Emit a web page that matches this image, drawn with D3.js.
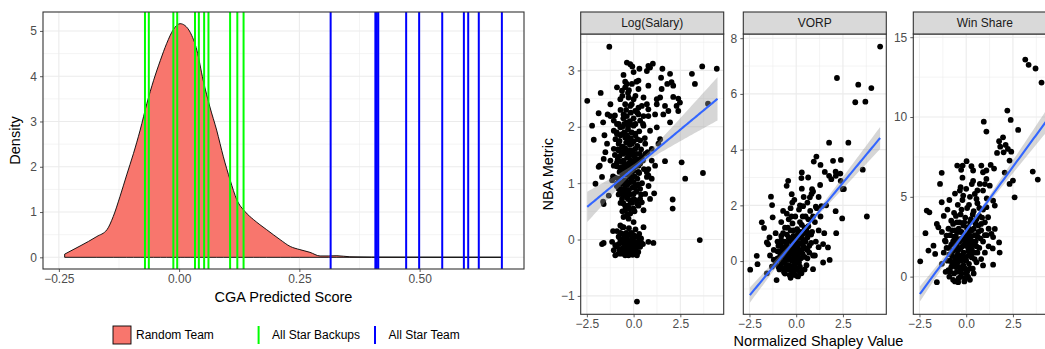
<!DOCTYPE html>
<html><head><meta charset="utf-8">
<script src="https://cdn.jsdelivr.net/npm/d3@7"></script>
<style>body{margin:0;background:#fff}svg text{font-family:"Liberation Sans",Arial,sans-serif}</style>
</head><body><svg id="c" width="1045" height="349" font-family="Liberation Sans, Arial, sans-serif"></svg>
<script>
// ---------- data ----------
const densityX = [-0.238,-0.206,-0.171,-0.150,-0.137,-0.123,-0.109,-0.095,-0.081,-0.067,-0.053,-0.039,-0.026,-0.012,0.002,0.012,0.023,0.037,0.050,0.064,0.078,0.092,0.106,0.120,0.137,0.155,0.168,0.182,0.210,0.231,0.251,0.272,0.293,0.310,0.328,0.355,0.400,0.500,0.600,0.671];
const densityY = [0.07,0.25,0.46,0.61,0.90,1.34,1.82,2.29,2.81,3.40,3.91,4.35,4.72,5.03,5.16,5.12,4.97,4.57,3.91,3.32,2.81,2.22,1.71,1.27,1.01,0.83,0.72,0.61,0.39,0.24,0.17,0.11,0.03,0.03,0.035,0.012,0.006,0.004,0.003,0.003];
const backupScores = [-0.071,-0.063,-0.012,-0.004,0.033,0.041,0.052,0.061,0.106,0.121,0.134];
const allStarScores = [0.315,0.408,0.411,0.414,0.472,0.499,0.547,0.592,0.601,0.623,0.671];
const legendLabels = ["Random Team","All Star Backups","All Star Team"];
const leftXTicks = [-0.25,0,0.25,0.5];
const leftYTicks = [0,1,2,3,4,5];

const facetNames = ["Log(Salary)","VORP","Win Share"];
const facetXTicks = [-2.5,0,2.5];
const facetYTicks = [[-1,0,1,2,3],[0,2,4,6,8],[0,5,10,15]];
const facetYDomains = [[-1.326,3.646],[-1.91,8.15],[-2.36,15.2]];

const salaryPoints = [
[-1.30,3.42],[-2.48,2.46],[-1.76,2.60],[-0.36,3.14],[-0.18,3.11],[-0.07,3.07],[0.31,3.03],[0.79,3.08],[1.03,3.12],[1.54,3.03],[1.95,2.94],[3.12,2.94],[3.67,3.07],[4.45,3.03],[3.28,2.76],[3.98,2.41],
[-0.54,2.92],[0.0,2.97],[0.71,2.99],[0.88,3.05],[1.47,2.87],[1.80,2.76],[2.03,2.79],[2.12,2.73],[1.50,2.67],[0.79,2.73],[0.26,2.67],[-0.36,2.76],[-0.45,2.70],[-0.09,2.76],[-0.89,2.70],[-0.62,2.64],[0.26,2.82],
[-0.71,2.49],[-0.27,2.52],[0.0,2.49],[0.53,2.52],[1.24,2.49],[1.42,2.52],[2.12,2.53],[2.39,2.50],[2.48,2.43],[2.30,2.37],[2.39,2.28],[1.68,2.37],[1.86,2.28],[1.24,2.40],[0.71,2.40],[0.79,2.31],[0.26,2.34],[0.44,2.37],[-0.45,2.40],[-0.18,2.37],[-1.24,2.40],
[-1.87,2.24],[-1.39,2.22],[-1.24,2.19],[-0.54,2.22],[-0.36,2.19],[0.09,2.28],[0.26,2.22],[0.53,2.19],[0.79,2.19],[1.15,2.22],[1.59,2.22],
[-2.22,2.02],[-1.63,2.08],[-1.06,2.11],[-0.89,2.05],[-0.71,1.99],[-0.36,2.08],[-0.18,2.05],[0.0,2.02],[0.35,2.11],[0.53,2.02],[0.88,1.93],[1.24,1.99],[1.95,2.08],
[-2.13,1.77],[-1.56,1.85],[-1.06,1.93],[-0.89,1.87],[-0.97,1.78],[-0.62,1.87],[-0.45,1.81],[-0.27,1.76],[-0.09,1.70],[0.09,1.85],[0.35,1.76],[0.62,1.70],[0.97,1.61],[1.33,1.70],[1.42,1.78],
[-1.42,1.70],[-1.51,1.55],[-1.06,1.61],[-0.80,1.58],[-0.62,1.64],[-0.45,1.55],[-0.27,1.49],[-0.09,1.58],[0.09,1.61],[0.32,1.52],[0.44,1.46],[0.62,1.52],
[-1.81,1.31],[-1.60,1.43],[-1.24,1.40],[-1.06,1.31],[-0.89,1.37],[-0.71,1.28],[-0.45,1.34],[-0.36,1.25],[-0.09,1.31],[0.0,1.22],[0.26,1.31],[0.97,1.40],[1.15,1.31],[0.79,1.25],[1.68,1.39],[2.57,1.37],[3.71,1.18],
[-2.04,0.99],[-1.87,1.29],[-1.69,1.11],[-1.15,1.05],[-0.98,1.10],[-0.89,0.99],[-0.80,0.90],[-1.63,0.67],[-1.33,0.78],[-0.71,0.84],[-0.62,0.72],[-0.54,0.64],[-0.36,0.75],[-0.18,0.69],[0.0,0.81],[0.18,0.64],
[-0.45,0.52],[-0.18,0.46],[0.0,0.55],[0.26,0.60],[0.44,0.66],[0.53,0.52],[-0.54,0.40],[-0.27,0.37],[0.0,0.31],[0.35,0.72],[0.62,0.81],[0.88,0.72],[1.10,0.82],[0.09,0.93],[0.35,0.90],[0.71,1.11],[0.97,1.08],[0.79,1.14],
[0.53,0.22],[-0.71,0.25],[-0.54,0.22],[-1.10,0.15],[-0.89,0.15],[2.09,0.71],[2.09,0.55],[2.76,1.08],[3.54,-0.01],[0.18,-1.10],[-1.60,0.63],
[-1.69,-0.08],[-1.60,-0.06],[-1.15,-0.04],[-0.98,-0.10],[-1.06,-0.19],[-0.98,-0.28],[-0.80,-0.25],[-0.71,0.0],[-0.54,-0.07],[-0.36,0.02],[-0.27,-0.10],[-0.18,0.08],[-0.09,0.0],[0.09,-0.07],[0.26,-0.04],[0.35,-0.13],[-0.62,-0.16],[-0.45,-0.22],[-0.27,-0.28],[-0.09,-0.22],[0.09,-0.16],[0.18,-0.28],[0.79,-0.04],[1.06,-0.06],
[-0.9,1.9],[-0.7,1.85],[-0.5,1.9],[-0.3,1.95],[-0.1,1.9],[0.1,1.88],[0.3,1.92],[-0.8,1.7],[-0.6,1.65],[-0.4,1.72],[-0.2,1.68],[0.0,1.74],[0.2,1.66],[0.4,1.6],
[-1.0,1.5],[-0.75,1.48],[-0.55,1.52],[-0.35,1.45],[-0.15,1.5],[0.05,1.47],[0.25,1.42],[0.5,1.4],[-0.9,1.3],[-0.7,1.25],[-0.5,1.32],[-0.3,1.28],[-0.1,1.2],[0.1,1.3],[0.3,1.18],[0.55,1.25],
[-1.1,1.12],[-0.8,1.08],[-0.6,1.15],[-0.4,1.05],[-0.2,1.12],[0.0,1.02],[0.2,1.08],[0.45,1.0],[-0.9,0.95],[-0.65,0.9],[-0.45,0.95],[-0.25,0.88],[-0.05,0.92],[0.15,0.85],[0.4,0.8],
[-0.55,0.78],[-0.3,0.72],[-0.1,0.65],[0.1,0.7],[-0.45,0.6],[-0.2,0.55],[0.05,0.5],[-0.6,0.5],[-0.35,0.45],
[-0.5,2.05],[-0.2,2.1],[0.0,2.15],[-0.7,2.3],[-0.4,2.3],[0.2,2.25],[-0.6,2.55],[-0.3,2.6],[0.1,2.55],[-0.1,2.4],[-0.45,2.8],[-0.25,2.65],[0.15,2.8],[-0.8,2.05],[-1.0,2.2],[0.5,2.05],[0.6,1.8],[0.75,1.55],[0.7,1.2],[0.8,0.95],
[-0.65,1.38],[-0.25,1.35],[0.0,1.38],[-0.45,1.2],[-0.15,1.02],[-0.6,1.0],[-0.35,0.82],[-0.8,0.8],[0.25,0.98],[0.35,1.35],
[-0.8,0.05],[-0.6,0.1],[-0.4,0.12],[-0.2,0.1],[0.0,0.08],[0.2,0.05],[0.4,0.02],[-0.9,-0.12],[-0.7,-0.05],[-0.5,-0.08],[-0.3,-0.02],[-0.1,-0.05],[0.1,-0.1],[0.3,-0.02],[0.5,-0.08],
[-0.75,-0.18],[-0.55,-0.22],[-0.35,-0.15],[-0.15,-0.2],[0.05,-0.18],[0.25,-0.22],[-0.45,-0.28],[-0.05,-0.27],[-0.6,0.22],[-0.25,0.2],[0.1,0.18],
[-0.85,1.6],[-0.65,1.55],[-0.45,1.62],[-0.25,1.58],[-0.05,1.55],[0.15,1.52],[-0.75,1.2],[-0.55,1.25],[-0.35,1.15],[-0.15,1.25],[0.05,1.12],[0.25,1.2],[-0.7,1.0],[-0.5,1.05],[-0.3,0.98],[-0.1,1.05],[0.1,0.95],[-0.6,0.85],[-0.4,0.88],[-0.2,0.8],[0.0,0.72],[-0.7,0.65],[-0.3,0.6],[-0.85,1.42],[-0.55,1.4],[-0.15,1.4],[0.15,1.38],[-0.75,1.75],[-0.35,1.85],[-0.15,1.8],[0.2,1.78],[-0.6,2.0],[-0.3,2.0],[0.1,2.05],[-0.55,2.15],[-0.15,2.25],
[-0.7,0.12],[-0.5,0.05],[-0.3,0.08],[-0.1,0.12],[0.1,0.05],[0.3,0.1],[-0.8,-0.08],[-0.6,-0.02],[-0.4,-0.05],[-0.2,-0.08],[0.0,-0.03],[0.2,-0.12],[0.4,-0.05],[-0.65,-0.25],[-0.35,-0.25],[-0.15,-0.12],[0.15,-0.25],[-0.5,-0.15],[-0.25,-0.18],[0.0,-0.15]
];
const vorpPoints = [
[4.49,7.70],[2.18,6.57],[3.32,6.33],[4.02,6.21],[3.16,5.70],[3.70,5.72],[1.76,4.25],[2.79,4.25],[1.08,3.75],[0.94,3.57],[1.30,3.45],[1.97,3.60],[2.39,3.63],[1.53,3.20],[2.11,3.21],[2.36,3.14],[3.56,3.28],[0.30,3.18],
[3.78,1.60],[-0.43,2.88],[-0.51,2.70],[0.28,2.98],[0.64,3.00],[1.76,3.06],[1.88,2.94],[2.38,2.88],[2.12,3.06],[1.28,2.73],[2.49,2.58],[0.85,2.58],[-1.35,2.31],[-1.29,2.01],[-1.26,1.57],[-0.24,2.40],[-0.21,2.10],[0.73,2.29],[0.82,2.41],[0.37,1.97],[1.05,1.95],[1.35,1.97],[2.11,1.79],[2.46,1.53],[2.14,1.00],[-1.84,1.39],[-1.72,1.19],[-1.43,0.85],[-1.57,0.67],[-2.11,0.19],[-2.46,-0.31],[-2.07,-0.11],[1.44,-0.05],[1.79,0.04],[1.70,0.49],[1.44,0.61],[0.90,-0.29],[-1.05,-0.68],[0.02,-0.53],[0.28,-0.44],[-1.57,-0.44],[2.55,2.59],
[-1.4,0.2],[-1.2,0.4],[-1.1,-0.1],[-1.0,0.7],[-1.0,0.1],[-0.9,-0.3],[-0.9,0.35],[-0.8,0.9],[-0.8,-0.1],[-0.75,0.5],
[-0.7,0.15],[-0.65,-0.4],[-0.6,1.2],[-0.6,0.7],[-0.55,0.3],[-0.5,-0.15],[-0.5,0.95],[-0.45,0.45],[-0.4,0.05],[-0.4,1.5],
[-0.35,-0.5],[-0.35,0.75],[-0.3,0.25],[-0.3,1.1],[-0.25,-0.2],[-0.2,0.55],[-0.2,1.35],[-0.15,0.0],[-0.15,0.9],[-0.1,-0.45],
[-0.1,0.35],[-0.05,1.6],[0.0,0.7],[0.0,0.1],[0.05,-0.25],[0.05,1.15],[0.1,0.45],[0.15,1.85],[0.15,-0.05],[0.2,0.85],
[0.25,0.3],[0.3,1.3],[0.3,-0.35],[0.35,0.6],[0.4,1.0],[0.45,0.15],[0.5,1.6],[0.5,0.45],[0.55,-0.15],[0.6,0.85],
[0.65,1.25],[0.7,0.3],[0.75,1.8],[0.8,0.65],[0.85,1.05],[0.9,0.2],[1.0,1.4],[1.05,0.7],[1.1,1.9],[1.2,1.1],
[-1.3,-0.2],[-1.2,0.05],[-0.95,0.55],[-0.85,0.2],[-0.7,-0.25],[-0.6,0.0],[-0.55,0.55],[-0.45,0.2],[-0.4,-0.3],[-0.35,0.4],
[-0.25,0.05],[-0.25,0.7],[-0.2,-0.35],[-0.15,0.25],[-0.1,0.6],[-0.05,-0.1],[0.0,0.4],[0.05,0.9],[0.1,0.15],[0.15,0.6],
[0.2,-0.2],[0.25,1.05],[0.3,0.4],[0.4,0.75],[0.45,-0.3],[0.55,1.1],[0.6,0.1],[0.7,0.55],[0.8,0.95],[0.9,1.6],
[-0.5,1.7],[-0.3,1.9],[-0.1,2.2],[0.2,2.0],[0.4,2.3],[0.6,2.1],[-0.8,1.4],[-1.1,1.0],[-0.3,-0.6],[0.1,-0.55],
[0.3,2.6],[0.9,2.5],[1.2,2.3],[1.3,1.6],[1.5,1.0],[1.6,2.0],[1.0,0.2],[1.2,0.5],[-1.5,0.6],[-0.7,1.8],
[-1.0,0.35],[-0.9,0.05],[-0.85,0.6],[-0.75,0.3],[-0.7,-0.05],[-0.65,0.45],[-0.6,0.2],[-0.55,-0.25],[-0.5,0.65],[-0.5,0.1],[-0.45,0.35],[-0.4,-0.15],[-0.4,0.85],[-0.35,0.1],[-0.3,0.5],[-0.3,-0.3],[-0.25,0.3],[-0.2,0.0],[-0.2,0.8],[-0.15,0.45],[-0.1,0.15],[-0.1,-0.2],[-0.05,0.75],[0.0,0.25],[0.0,-0.3],[0.05,0.55],[0.1,0.0],[0.1,1.0],[0.15,0.35],[0.2,0.65],[0.25,0.1],[0.3,0.85],[0.35,0.25],[0.4,0.5],[0.45,1.2],[0.5,0.7],[0.6,0.4],[0.65,1.0],[-0.8,0.75],[-0.95,-0.2],[-0.6,-0.45],[-0.2,-0.5],[0.2,-0.4],[-0.7,1.0],[-0.45,1.2],[-0.15,1.1],[0.2,1.4],[-0.25,1.6],[0.35,1.6],[0.65,1.5]
];
const winSharePoints = [
[3.16,13.6],[3.34,13.27],[3.71,13.04],[4.03,12.16],[2.20,10.40],[2.38,9.82],[0.94,9.71],[1.08,9.09],[2.78,9.19],[1.97,8.73],[1.76,8.48],[1.82,8.14],[2.11,8.25],[2.23,8.0],[2.0,7.79],[1.65,7.75],[2.41,7.83],[2.32,7.27],[0.02,7.23],[-0.48,6.96],[-0.19,6.96],[-0.27,6.69],[0.28,6.92],[0.37,6.65],[0.81,6.96],[1.31,7.0],[1.49,6.77],[1.08,6.65],[0.90,6.54],[-1.31,6.50],[2.06,6.52],[3.56,6.58],
[3.83,6.08],[2.59,4.97],[2.32,5.81],[2.50,6.02],[-1.40,5.81],[-1.31,4.66],[-2.11,4.14],[-1.97,4.03],[-2.18,2.72],[-2.46,0.96],[-1.66,1.42],[-1.57,-0.35],[1.44,0.75],[1.79,1.51],[1.76,2.14],[1.53,2.99],[1.35,2.68],[1.44,2.48],[-0.43,-0.35],[0.37,5.99],[0.73,5.81],[1.08,6.12],[1.26,5.70],[0.90,5.39],[-0.34,5.39],[-0.16,5.08],[0.46,5.18],[0.55,4.87],[1.53,4.45],[1.44,4.76],[1.08,4.35],[1.17,3.72],[-1.57,3.30],[-1.49,3.09],[-1.05,2.57],[-1.14,2.26],[-2.02,1.63],[-1.75,1.94],[1.42,1.77],
[-1.3,0.8],[-1.2,1.5],[-1.1,0.3],[-1.1,2.2],[-1.0,1.0],[-0.95,3.0],[-0.9,0.0],[-0.9,1.8],[-0.85,2.6],[-0.8,0.6],
[-0.8,3.5],[-0.75,1.3],[-0.7,2.2],[-0.7,-0.2],[-0.65,4.0],[-0.6,0.9],[-0.6,2.9],[-0.55,1.7],[-0.5,0.3],[-0.5,3.4],
[-0.45,2.3],[-0.45,4.5],[-0.4,1.1],[-0.4,-0.1],[-0.35,2.8],[-0.35,0.6],[-0.3,1.8],[-0.3,3.9],[-0.25,0.2],[-0.25,2.4],
[-0.2,1.3],[-0.2,4.8],[-0.15,3.2],[-0.15,0.7],[-0.1,2.0],[-0.1,-0.3],[-0.05,3.7],[0.0,1.0],[0.0,2.6],[0.05,0.3],
[0.05,4.3],[0.1,1.6],[0.1,3.1],[0.15,0.8],[0.2,2.2],[0.2,5.0],[0.25,3.6],[0.3,1.2],[0.3,2.9],[0.35,0.5],
[0.4,4.1],[0.4,2.0],[0.45,1.5],[0.5,3.3],[0.55,0.9],[0.6,2.5],[0.6,4.6],[0.7,1.8],[0.7,3.8],[0.8,1.1],
[0.8,2.9],[0.9,4.2],[0.9,2.2],[1.0,3.4],[1.0,1.5],[1.1,2.6],[1.1,4.9],[1.2,3.0],[1.2,1.9],[-1.0,4.2],
[-0.85,1.0],[-0.75,2.9],[-0.65,0.2],[-0.55,2.5],[-0.45,1.4],[-0.35,3.4],[-0.25,1.0],[-0.15,2.3],[-0.05,0.5],[0.05,1.9],
[0.15,2.7],[0.25,1.4],[0.35,3.9],[0.45,2.6],[0.55,1.9],[0.65,3.2],[0.75,2.4],[0.85,3.7],[-0.6,5.2],[-0.3,5.6],
[0.0,5.5],[0.3,5.8],[-0.9,4.8],[-0.2,6.2],[0.6,5.4],[1.0,5.8],[0.2,-0.2],[-0.6,-0.3],[0.4,0.2],[0.9,0.7],
[-1.2,3.8],[-1.3,2.8],[-0.95,0.4],[-0.05,-0.1],[0.1,0.0],[-0.3,0.0],
[-0.9,1.4],[-0.8,2.0],[-0.75,0.8],[-0.7,1.6],[-0.65,2.5],[-0.6,1.2],[-0.55,0.6],[-0.5,2.0],[-0.5,2.8],[-0.45,0.9],[-0.4,1.7],[-0.4,3.0],[-0.35,2.2],[-0.3,1.3],[-0.3,0.4],[-0.25,2.8],[-0.2,1.9],[-0.2,0.6],[-0.15,1.5],[-0.1,2.6],[-0.1,3.4],[-0.05,1.2],[0.0,2.2],[0.0,0.2],[0.05,3.0],[0.1,1.3],[0.1,2.4],[0.15,1.9],[0.2,0.5],[0.2,3.4],[0.25,2.5],[0.3,1.7],[0.35,2.2],[0.4,3.0],[0.45,1.1],[0.5,2.2],[0.55,3.6],[0.6,1.5],[0.65,2.8],[0.7,4.3],[-0.7,3.3],[-0.55,3.8],[-0.25,4.2],[0.15,4.5],[-0.85,0.3],[-1.05,1.8],[0.8,3.3],[1.0,2.6]
];
// linear fit (geom_smooth, method = "lm")
const fitIntercept = [1.262,0.786,2.88];
const fitSlope = [0.275,0.809,1.60];
const seCenterX = [0.37,0.33,0.24];
const seMin = [0.06,0.06,0.12];
const seGrowth = [0.092,0.094,0.169];

// ---------- drawing ----------
const FONT="Liberation Sans, Arial, sans-serif";
const svg = d3.select("#c");
const GRID="#EBEBEB", BORDER="#333333", TICKTXT="#4D4D4D";
svg.append("rect").attr("width",1045).attr("height",349).attr("fill","#fff");

function styleAxis(g){
  g.attr("font-family",FONT);
  g.select(".domain").remove();
  g.selectAll(".tick line").attr("stroke",BORDER).attr("stroke-width",0.8);
  g.selectAll(".tick text").attr("fill",TICKTXT).attr("font-size","12px").attr("font-family",FONT);
}
function label(sel){return sel.append("text").attr("font-family",FONT);}
function midpoints(t){const m=[];for(let i=0;i<t.length-1;i++)m.push((t[i]+t[i+1])/2);return m;}

// ===== left density panel =====
const L={x0:43,x1:524,y0:12,y1:269};
const lx=d3.scaleLinear([-0.283,0.717],[L.x0,L.x1]);
const ly=d3.scaleLinear([-0.258,5.418],[L.y1,L.y0]);
const lg=svg.append("g");
svg.append("clipPath").attr("id","clipL").append("rect").attr("x",L.x0).attr("y",L.y0).attr("width",L.x1-L.x0).attr("height",L.y1-L.y0);
const lgrid=lg.append("g").attr("clip-path","url(#clipL)");
const xminor=[-0.375].concat(midpoints(leftXTicks)).concat([0.625]);
const yminor=midpoints(leftYTicks).concat([5.5]);
xminor.forEach(v=>lgrid.append("line").attr("x1",lx(v)).attr("x2",lx(v)).attr("y1",L.y0).attr("y2",L.y1).attr("stroke",GRID).attr("stroke-width",0.55));
yminor.forEach(v=>lgrid.append("line").attr("y1",ly(v)).attr("y2",ly(v)).attr("x1",L.x0).attr("x2",L.x1).attr("stroke",GRID).attr("stroke-width",0.55));
leftXTicks.forEach(v=>lgrid.append("line").attr("x1",lx(v)).attr("x2",lx(v)).attr("y1",L.y0).attr("y2",L.y1).attr("stroke",GRID).attr("stroke-width",1.1));
leftYTicks.forEach(v=>lgrid.append("line").attr("y1",ly(v)).attr("y2",ly(v)).attr("x1",L.x0).attr("x2",L.x1).attr("stroke",GRID).attr("stroke-width",1.1));

const dens=densityX.map((x,i)=>[x,densityY[i]]);
const area=d3.area().x(d=>lx(d[0])).y0(ly(0)).y1(d=>ly(d[1])).curve(d3.curveMonotoneX);
lg.append("path").datum(dens).attr("d",area).attr("fill","#F8766D").attr("stroke","#000").attr("stroke-width",0.9);

lg.selectAll(".vb").data(backupScores).join("line").attr("x1",d=>lx(d)).attr("x2",d=>lx(d)).attr("y1",L.y0).attr("y2",L.y1).attr("stroke","#00FF00").attr("stroke-width",2);
lg.selectAll(".va").data(allStarScores).join("line").attr("x1",d=>lx(d)).attr("x2",d=>lx(d)).attr("y1",L.y0).attr("y2",L.y1).attr("stroke","#0000FF").attr("stroke-width",2);
lg.append("rect").attr("x",L.x0).attr("y",L.y0).attr("width",L.x1-L.x0).attr("height",L.y1-L.y0).attr("fill","none").attr("stroke",BORDER).attr("stroke-width",1.1);

lg.append("g").attr("transform",`translate(0,${L.y1})`).call(d3.axisBottom(lx).tickValues(leftXTicks).tickFormat(d3.format(".2f")).tickSize(3).tickPadding(2)).call(styleAxis);
lg.append("g").attr("transform",`translate(${L.x0},0)`).call(d3.axisLeft(ly).tickValues(leftYTicks).tickFormat(d3.format("d")).tickSize(3).tickPadding(3)).call(styleAxis);
label(lg).attr("x",(L.x0+L.x1)/2).attr("y",297).attr("dy","0.35em").attr("text-anchor","middle").attr("font-size","14.5px").attr("fill","#000").text("CGA Predicted Score");
label(lg).attr("transform",`translate(15,${(L.y0+L.y1)/2}) rotate(-90)`).attr("dy","0.35em").attr("text-anchor","middle").attr("font-size","14.5px").attr("fill","#000").text("Density");

// legend
const legY=335;
const leg=svg.append("g");
leg.append("rect").attr("x",113).attr("y",legY-9).attr("width",18).attr("height",18).attr("fill","#F8766D").attr("stroke","#000").attr("stroke-width",0.9);
label(leg).attr("x",136).attr("y",legY).attr("dy","0.35em").attr("font-size","12px").attr("fill","#000").text(legendLabels[0]);
leg.append("line").attr("x1",258.6).attr("x2",258.6).attr("y1",legY-9).attr("y2",legY+9).attr("stroke","#00FF00").attr("stroke-width",2);
label(leg).attr("x",272).attr("y",legY).attr("dy","0.35em").attr("font-size","12px").attr("fill","#000").text(legendLabels[1]);
leg.append("line").attr("x1",375).attr("x2",375).attr("y1",legY-9).attr("y2",legY+9).attr("stroke","#0000FF").attr("stroke-width",2);
label(leg).attr("x",388.6).attr("y",legY).attr("dy","0.35em").attr("font-size","12px").attr("fill","#000").text(legendLabels[2]);

// ===== right facets =====
const facetData=[salaryPoints,vorpPoints,winSharePoints];
const panelLeft=[580.7,743.3,913.3];
const PW=143, PT=34, PB=314.3, ST=12;
const allX=facetData.flat().map(d=>d[0]);
const xLo=d3.min(allX), xHi=d3.max(allX);
facetData.forEach((pts,i)=>{
  const px0=panelLeft[i], px1=px0+PW;
  const fx=d3.scaleLinear([-2.83,4.82],[px0,px1]);
  const fy=d3.scaleLinear(facetYDomains[i],[PB,PT]);
  const g=svg.append("g");
  const cid="clipF"+i;
  svg.append("clipPath").attr("id",cid).append("rect").attr("x",px0).attr("y",PT).attr("width",PW).attr("height",PB-PT);
  const inner=g.append("g").attr("clip-path",`url(#${cid})`);
  const yt=facetYTicks[i];
  const step=yt[1]-yt[0];
  const ym=[yt[0]-step/2].concat(midpoints(yt)).concat([yt[yt.length-1]+step/2]);
  const xm=[-3.75,-1.25,1.25,3.75];
  xm.forEach(v=>inner.append("line").attr("x1",fx(v)).attr("x2",fx(v)).attr("y1",PT).attr("y2",PB).attr("stroke",GRID).attr("stroke-width",0.55));
  ym.forEach(v=>inner.append("line").attr("y1",fy(v)).attr("y2",fy(v)).attr("x1",px0).attr("x2",px1).attr("stroke",GRID).attr("stroke-width",0.55));
  facetXTicks.forEach(v=>inner.append("line").attr("x1",fx(v)).attr("x2",fx(v)).attr("y1",PT).attr("y2",PB).attr("stroke",GRID).attr("stroke-width",1.1));
  yt.forEach(v=>inner.append("line").attr("y1",fy(v)).attr("y2",fy(v)).attr("x1",px0).attr("x2",px1).attr("stroke",GRID).attr("stroke-width",1.1));
  inner.selectAll("circle").data(pts).join("circle").attr("cx",d=>fx(d[0])).attr("cy",d=>fy(d[1])).attr("r",2.9).attr("fill","#000");
  // smooth band + line
  const xs=d3.range(0,81).map(k=>xLo+(xHi-xLo)*k/80);
  const fit=x=>fitIntercept[i]+fitSlope[i]*x;
  const hw=x=>Math.sqrt(seMin[i]*seMin[i]+seGrowth[i]*seGrowth[i]*(x-seCenterX[i])*(x-seCenterX[i]));
  inner.append("path").datum(xs).attr("d",d3.area().x(x=>fx(x)).y0(x=>fy(fit(x)-hw(x))).y1(x=>fy(fit(x)+hw(x)))).attr("fill","#999999").attr("fill-opacity",0.4);
  inner.append("path").datum(xs).attr("d",d3.line().x(x=>fx(x)).y(x=>fy(fit(x)))).attr("fill","none").attr("stroke","#3366FF").attr("stroke-width",2.1);
  g.append("rect").attr("x",px0).attr("y",PT).attr("width",PW).attr("height",PB-PT).attr("fill","none").attr("stroke",BORDER).attr("stroke-width",1.1);
  // strip
  g.append("rect").attr("x",px0).attr("y",ST).attr("width",PW).attr("height",PT-ST).attr("fill","#D9D9D9").attr("stroke",BORDER).attr("stroke-width",1.1);
  label(g).attr("x",(px0+px1)/2).attr("y",(ST+PT)/2).attr("dy","0.35em").attr("text-anchor","middle").attr("font-size","12px").attr("fill","#1A1A1A").text(facetNames[i]);
  g.append("g").attr("transform",`translate(0,${PB})`).call(d3.axisBottom(fx).tickValues(facetXTicks).tickFormat(d3.format(".1f")).tickSize(3).tickPadding(2)).call(styleAxis);
  g.append("g").attr("transform",`translate(${px0},0)`).call(d3.axisLeft(fy).tickValues(yt).tickFormat(d3.format("d")).tickSize(3).tickPadding(3)).call(styleAxis);
});
label(svg).attr("x",(panelLeft[0]+panelLeft[2]+PW)/2).attr("y",341).attr("dy","0.35em").attr("text-anchor","middle").attr("font-size","14.5px").attr("fill","#000").text("Normalized Shapley Value");
label(svg).attr("transform",`translate(547.5,${(PT+PB)/2}) rotate(-90)`).attr("dy","0.35em").attr("text-anchor","middle").attr("font-size","14.5px").attr("fill","#000").text("NBA Metric");
</script></body></html>
